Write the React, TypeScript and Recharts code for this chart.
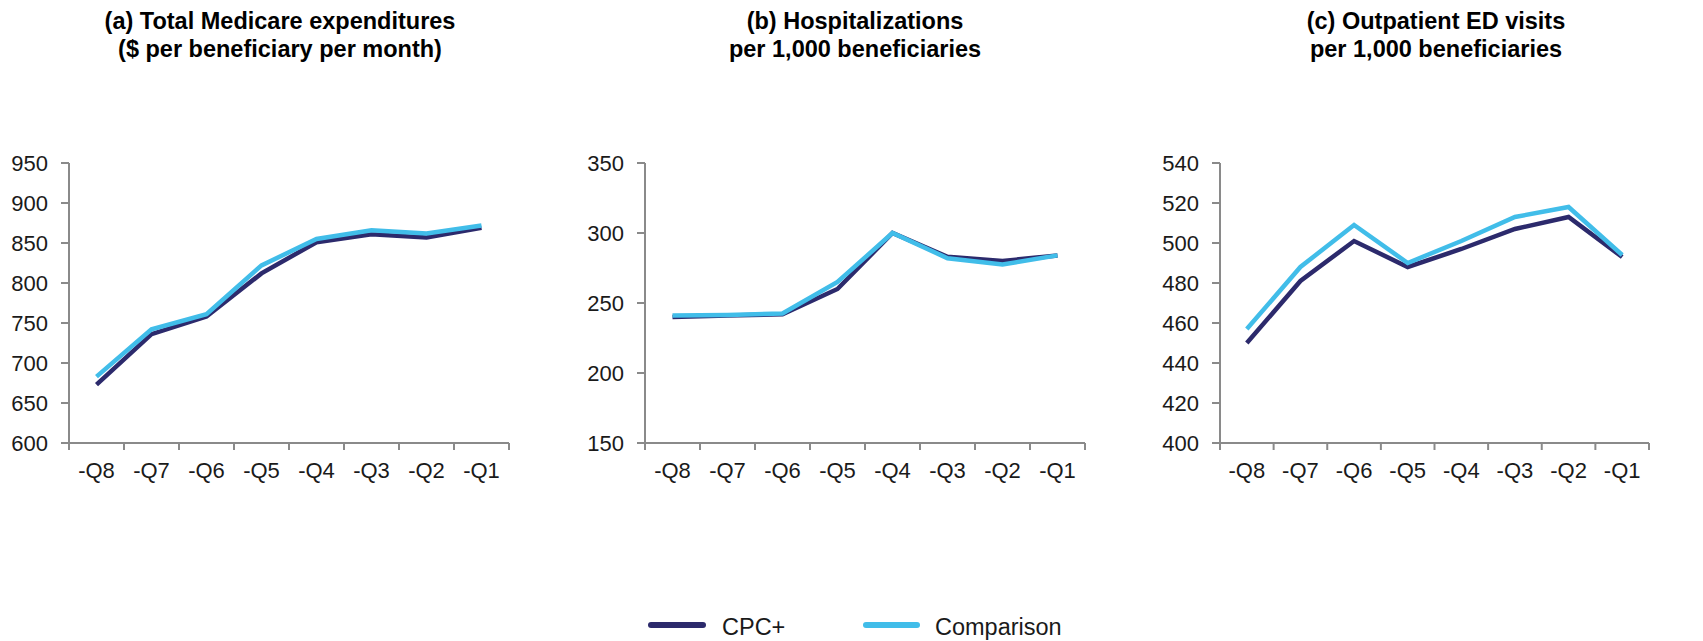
import React from "react";
import { LineChart, Line, XAxis, YAxis } from "recharts";

const quarters = ["-Q8", "-Q7", "-Q6", "-Q5", "-Q4", "-Q3", "-Q2", "-Q1"];

const expCpc = [673, 736, 758, 812, 851, 861, 857, 869];
const expComp = [683, 742, 761, 822, 855, 866, 862, 872];
const expTicks = [600, 650, 700, 750, 800, 850, 900, 950];

const hospCpc = [240, 241, 242, 260, 300, 283, 280, 284];
const hospComp = [241, 241.5, 242.5, 265, 300, 282, 277.5, 284];
const hospTicks = [150, 200, 250, 300, 350];

const edCpc = [450, 481, 501, 488, 497, 507, 513, 493];
const edComp = [457, 488, 509, 490, 501, 513, 518, 494];
const edTicks = [400, 420, 440, 460, 480, 500, 520, 540];

const NAVY = "#2c2a6c";
const LIGHT = "#41bde9";
const AXIS = "#8a8a8a";
const FONT = "'Liberation Sans', Arial, sans-serif";

// boundary ticks at integers, labels at band centres
const xTicks = Array.from({ length: 17 }, (_, i) => i / 2);

const QTick = (props: any) => {
  const { x, y, payload } = props;
  const v = payload.value;
  if (Number.isInteger(v)) {
    return <line x1={x} x2={x} y1={y - 19} y2={y - 12} stroke={AXIS} strokeWidth={2} />;
  }
  return (
    <text x={x} y={y} dy="0.71em" textAnchor="middle" fontSize={22} fill="#1a1a1a" fontFamily={FONT}>
      {quarters[Math.floor(v)]}
    </text>
  );
};

type PanelProps = {
  left: number;
  width: number;
  yWidth: number;
  cpc: number[];
  comp: number[];
  ticks: number[];
};

function Panel({ left, width, yWidth, cpc, comp, ticks }: PanelProps) {
  const data = quarters.map((q, i) => ({ x: i + 0.5, q, cpc: cpc[i], comp: comp[i] }));
  return (
    <div style={{ position: "absolute", left, top: 140 }}>
      <LineChart width={width} height={390} data={data} margin={{ top: 23, right: 17, bottom: 51, left: 0 }}>
        <XAxis
          dataKey="x"
          type="number"
          domain={[0, 8]}
          ticks={xTicks}
          interval={0}
          tick={<QTick />}
          tickLine={false}
          tickSize={7}
          tickMargin={12}
          height={36}
          axisLine={{ stroke: AXIS, strokeWidth: 2 }}
        />
        <YAxis
          type="number"
          domain={[ticks[0], ticks[ticks.length - 1]]}
          ticks={ticks}
          interval={0}
          width={yWidth}
          tickSize={8}
          tickMargin={13}
          tick={{ fontSize: 22, fill: "#1a1a1a", fontFamily: FONT }}
          tickLine={{ stroke: AXIS, strokeWidth: 2 }}
          axisLine={{ stroke: AXIS, strokeWidth: 2 }}
        />
        <Line type="linear" dataKey="cpc" stroke={NAVY} strokeWidth={4.5} dot={false} isAnimationActive={false} />
        <Line type="linear" dataKey="comp" stroke={LIGHT} strokeWidth={4.5} dot={false} isAnimationActive={false} />
      </LineChart>
    </div>
  );
}

const titleStyle: React.CSSProperties = {
  position: "absolute",
  top: 7,
  width: 600,
  textAlign: "center",
  fontWeight: "bold",
  fontSize: 23.5,
  lineHeight: "28px",
  color: "#000",
};

export default function App() {
  return (
    <div
      style={{
        position: "absolute",
        left: 0,
        top: 0,
        width: 1703,
        height: 641,
        background: "#fff",
        fontFamily: FONT,
        overflow: "hidden",
      }}
    >
      <div style={{ ...titleStyle, left: 280 - 300 }}>
        (a) Total Medicare expenditures
        <br />($ per beneficiary per month)
      </div>
      <div style={{ ...titleStyle, left: 855 - 300 }}>
        (b) Hospitalizations
        <br />per 1,000 beneficiaries
      </div>
      <div style={{ ...titleStyle, left: 1436 - 300 }}>
        (c) Outpatient ED visits
        <br />per 1,000 beneficiaries
      </div>

      <Panel left={0} width={526} yWidth={69} cpc={expCpc} comp={expComp} ticks={expTicks} />
      <Panel left={560} width={542} yWidth={85} cpc={hospCpc} comp={hospComp} ticks={hospTicks} />
      <Panel left={1130} width={536} yWidth={90} cpc={edCpc} comp={edComp} ticks={edTicks} />

      <div style={{ position: "absolute", left: 648, top: 622, width: 58, height: 6, borderRadius: 3, background: NAVY }} />
      <div style={{ position: "absolute", left: 722, top: 612, fontSize: 23.5, lineHeight: "30px", color: "#1a1a1a" }}>
        CPC+
      </div>
      <div style={{ position: "absolute", left: 863, top: 622, width: 57, height: 6, borderRadius: 3, background: LIGHT }} />
      <div style={{ position: "absolute", left: 935, top: 612, fontSize: 23.5, lineHeight: "30px", color: "#1a1a1a" }}>
        Comparison
      </div>
    </div>
  );
}
